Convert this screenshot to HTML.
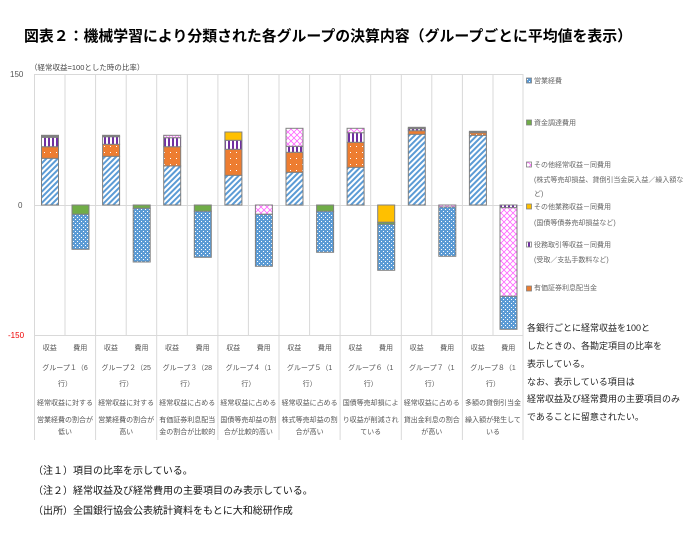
<!DOCTYPE html>
<html><head><meta charset="utf-8"><style>
body{margin:0;background:#fff;}
svg{display:block;font-family:"Liberation Sans","Noto Sans CJK JP",sans-serif;}
</style></head><body>
<svg width="698" height="538" viewBox="0 0 698 538" xmlns="http://www.w3.org/2000/svg">
<defs>
<pattern id="hb" width="4" height="4" patternUnits="userSpaceOnUse" patternTransform="rotate(45)"><rect width="4" height="4" fill="#fff"/><rect width="2" height="4" fill="#5B9BD5"/></pattern>
<pattern id="db" width="4" height="4" patternUnits="userSpaceOnUse"><rect width="4" height="4" fill="#5B9BD5"/><rect x="1" y="1" width="1" height="1" fill="#fff"/><rect x="3" y="3" width="1" height="1" fill="#fff"/></pattern>
<pattern id="do" width="6" height="6" patternUnits="userSpaceOnUse"><rect width="6" height="6" fill="#ED7D31"/><rect x="2" y="2" width="1" height="1" fill="#fff"/></pattern>
<pattern id="vp" width="4" height="4" patternUnits="userSpaceOnUse"><rect width="4" height="4" fill="#fff"/><rect width="2" height="4" fill="#7030A0"/></pattern>
<pattern id="xp" width="6" height="6" patternUnits="userSpaceOnUse"><rect width="6" height="6" fill="#fff"/><path d="M0 0L6 6M6 0L0 6" stroke="#FF66FF" stroke-width="0.8"/></pattern>
</defs>
<text x="24" y="41" font-size="15" font-weight="bold" fill="#000" textLength="608" lengthAdjust="spacingAndGlyphs">図表２：機械学習により分類された各グループの決算内容（グループごとに平均値を表示）</text>
<text x="30" y="70" font-size="7.5" fill="#444">（経常収益=100とした時の比率）</text>
<text x="10" y="77" font-size="8" fill="#555">150</text>
<text x="18" y="208" font-size="8" fill="#555">0</text>
<text x="8" y="338" font-size="8" fill="#e00">-150</text>
<g stroke="#d9d9d9" stroke-width="1">
<line x1="34" y1="74.5" x2="523" y2="74.5"/>
<line x1="34" y1="335.5" x2="523" y2="335.5"/>
<line x1="34.5" y1="74" x2="34.5" y2="440"/>
<line x1="65" y1="74" x2="65" y2="335"/><line x1="95.6" y1="74" x2="95.6" y2="440"/>
<line x1="126.2" y1="74" x2="126.2" y2="335"/><line x1="156.7" y1="74" x2="156.7" y2="440"/>
<line x1="187.3" y1="74" x2="187.3" y2="335"/><line x1="217.9" y1="74" x2="217.9" y2="440"/>
<line x1="248.4" y1="74" x2="248.4" y2="335"/><line x1="279" y1="74" x2="279" y2="440"/>
<line x1="309.6" y1="74" x2="309.6" y2="335"/><line x1="340.1" y1="74" x2="340.1" y2="440"/>
<line x1="370.7" y1="74" x2="370.7" y2="335"/><line x1="401.3" y1="74" x2="401.3" y2="440"/>
<line x1="431.8" y1="74" x2="431.8" y2="335"/><line x1="462.4" y1="74" x2="462.4" y2="440"/>
<line x1="493" y1="74" x2="493" y2="335"/><line x1="523" y1="74" x2="523" y2="440"/>
</g>
<line x1="34" y1="205.5" x2="523" y2="205.5" stroke="#d9d9d9"/>
<g stroke="#808080" stroke-width="1">
<!-- G1 -->
<rect x="41.5" y="158.3" width="17" height="46.7" fill="url(#hb)"/>
<rect x="41.5" y="146.7" width="17" height="11.6" fill="url(#do)"/>
<rect x="41.5" y="137.3" width="17" height="9.4" fill="url(#vp)"/>
<rect x="41.5" y="135.3" width="17" height="2" fill="#808080"/>
<rect x="72" y="205" width="17" height="9.3" fill="#70AD47"/>
<rect x="72" y="214.3" width="17" height="35" fill="url(#db)"/>
<!-- G2 -->
<rect x="102.6" y="156.3" width="17" height="48.7" fill="url(#hb)"/>
<rect x="102.6" y="144.3" width="17" height="12" fill="url(#do)"/>
<rect x="102.6" y="136.7" width="17" height="7.6" fill="url(#vp)"/>
<rect x="102.6" y="135.3" width="17" height="1.4" fill="#808080"/>
<rect x="133.2" y="205" width="17" height="3.3" fill="#70AD47"/>
<rect x="133.2" y="208.3" width="17" height="53.7" fill="url(#db)"/>
<!-- G3 -->
<rect x="163.7" y="166" width="17" height="39" fill="url(#hb)"/>
<rect x="163.7" y="146.7" width="17" height="19.3" fill="url(#do)"/>
<rect x="163.7" y="137.7" width="17" height="9" fill="url(#vp)"/>
<rect x="163.7" y="135.3" width="17" height="2.4" fill="url(#xp)"/>
<rect x="194.3" y="205" width="17" height="6.3" fill="#70AD47"/>
<rect x="194.3" y="211.3" width="17" height="46" fill="url(#db)"/>
<!-- G4 -->
<rect x="224.9" y="175.3" width="17" height="29.7" fill="url(#hb)"/>
<rect x="224.9" y="149.3" width="17" height="26" fill="url(#do)"/>
<rect x="224.9" y="140.3" width="17" height="9" fill="url(#vp)"/>
<rect x="224.9" y="132" width="17" height="8.3" fill="#FFC000"/>
<rect x="255.4" y="205" width="17" height="9.3" fill="url(#xp)"/>
<rect x="255.4" y="214.3" width="17" height="52" fill="url(#db)"/>
<!-- G5 -->
<rect x="286" y="172.3" width="17" height="32.7" fill="url(#hb)"/>
<rect x="286" y="152.3" width="17" height="20" fill="url(#do)"/>
<rect x="286" y="146.3" width="17" height="6" fill="url(#vp)"/>
<rect x="286" y="128.3" width="17" height="18" fill="url(#xp)"/>
<rect x="316.6" y="205" width="17" height="6.3" fill="#70AD47"/>
<rect x="316.6" y="211.3" width="17" height="41" fill="url(#db)"/>
<!-- G6 -->
<rect x="347.1" y="167.3" width="17" height="37.7" fill="url(#hb)"/>
<rect x="347.1" y="142.3" width="17" height="25" fill="url(#do)"/>
<rect x="347.1" y="132.7" width="17" height="9.6" fill="url(#vp)"/>
<rect x="347.1" y="128.3" width="17" height="4.4" fill="url(#xp)"/>
<rect x="377.7" y="205" width="17" height="17.3" fill="#FFC000"/>
<rect x="377.7" y="222.3" width="17" height="2" fill="#70AD47"/>
<rect x="377.7" y="224.3" width="17" height="46" fill="url(#db)"/>
<!-- G7 -->
<rect x="408.3" y="134.3" width="17" height="70.7" fill="url(#hb)"/>
<rect x="408.3" y="130.7" width="17" height="3.6" fill="url(#do)"/>
<rect x="408.3" y="128.7" width="17" height="2" fill="url(#vp)"/>
<rect x="408.3" y="127.3" width="17" height="1.4" fill="#808080"/>
<rect x="438.8" y="205" width="17" height="2" fill="url(#xp)"/>
<rect x="438.8" y="207" width="17" height="49.3" fill="url(#db)"/>
<!-- G8 -->
<rect x="469.4" y="135.3" width="17" height="69.7" fill="url(#hb)"/>
<rect x="469.4" y="132.7" width="17" height="2.6" fill="url(#do)"/>
<rect x="469.4" y="131.3" width="17" height="1.4" fill="#808080"/>
<rect x="500" y="205" width="17" height="2.7" fill="url(#vp)"/>
<rect x="500" y="207.7" width="17" height="88.6" fill="url(#xp)"/>
<rect x="500" y="296.3" width="17" height="33" fill="url(#db)"/>
</g>
<!-- category labels -->
<g font-size="7" fill="#555" text-anchor="middle">
<text x="49.8" y="350">収益</text><text x="80.3" y="350">費用</text>
<text x="110.9" y="350">収益</text><text x="141.5" y="350">費用</text>
<text x="172" y="350">収益</text><text x="202.6" y="350">費用</text>
<text x="233.2" y="350">収益</text><text x="263.7" y="350">費用</text>
<text x="294.3" y="350">収益</text><text x="324.9" y="350">費用</text>
<text x="355.4" y="350">収益</text><text x="386" y="350">費用</text>
<text x="416.6" y="350">収益</text><text x="447.1" y="350">費用</text>
<text x="477.7" y="350">収益</text><text x="508.3" y="350">費用</text>
</g>
<g font-size="7" fill="#555" text-anchor="middle">
<text x="65" y="370">グループ１（6</text><text x="65" y="386">行）</text>
<text x="126.2" y="370">グループ２（25</text><text x="126.2" y="386">行）</text>
<text x="187.3" y="370">グループ３（28</text><text x="187.3" y="386">行）</text>
<text x="248.4" y="370">グループ４（1</text><text x="248.4" y="386">行）</text>
<text x="309.6" y="370">グループ５（1</text><text x="309.6" y="386">行）</text>
<text x="370.7" y="370">グループ６（1</text><text x="370.7" y="386">行）</text>
<text x="431.8" y="370">グループ７（1</text><text x="431.8" y="386">行）</text>
<text x="493" y="370">グループ８（1</text><text x="493" y="386">行）</text>
</g>
<g font-size="7" fill="#555" text-anchor="middle">
<text x="65" y="405">経常収益に対する</text><text x="65" y="422">営業経費の割合が</text><text x="65" y="434">低い</text>
<text x="126.2" y="405">経常収益に対する</text><text x="126.2" y="422">営業経費の割合が</text><text x="126.2" y="434">高い</text>
<text x="187.3" y="405">経常収益に占める</text><text x="187.3" y="422">有価証券利息配当</text><text x="187.3" y="434">金の割合が比較的</text>
<text x="248.4" y="405">経常収益に占める</text><text x="248.4" y="422">国債等売却益の割</text><text x="248.4" y="434">合が比較的高い</text>
<text x="309.6" y="405">経常収益に占める</text><text x="309.6" y="422">株式等売却益の割</text><text x="309.6" y="434">合が高い</text>
<text x="370.7" y="405">国債等売却損によ</text><text x="370.7" y="422">り収益が削減され</text><text x="370.7" y="434">ている</text>
<text x="431.8" y="405">経常収益に占める</text><text x="431.8" y="422">貸出金利息の割合</text><text x="431.8" y="434">が高い</text>
<text x="493" y="405">多額の貸倒引当金</text><text x="493" y="422">繰入額が発生して</text><text x="493" y="434">いる</text>
</g>
<!-- legend -->
<g stroke="#808080" stroke-width="0.8">
<rect x="526.5" y="78" width="5" height="5" fill="url(#db)"/>
<rect x="526.5" y="120" width="5" height="5" fill="#70AD47"/>
<rect x="526.5" y="162" width="5" height="5" fill="url(#xp)"/>
<rect x="526.5" y="204" width="5" height="5" fill="#FFC000"/>
<rect x="526.5" y="242" width="5" height="5" fill="url(#vp)"/>
<rect x="526.5" y="286" width="5" height="5" fill="#ED7D31"/>
</g>
<g font-size="7" fill="#666">
<text x="534" y="83">営業経費</text>
<text x="534" y="125">資金調達費用</text>
<text x="534" y="167">その他経常収益－同費用</text>
<text x="534" y="182">(株式等売却損益、貸倒引当金戻入益／繰入額な</text>
<text x="534" y="196">ど)</text>
<text x="534" y="209">その他業務収益－同費用</text>
<text x="534" y="225">(国債等債券売却損益など)</text>
<text x="534" y="247">役務取引等収益－同費用</text>
<text x="534" y="262">(受取／支払手数料など)</text>
<text x="534" y="290">有価証券利息配当金</text>
</g>
<g font-size="9" fill="#222">
<text x="527" y="331">各銀行ごとに経常収益を100と</text>
<text x="527" y="349">したときの、各勘定項目の比率を</text>
<text x="527" y="367">表示している。</text>
<text x="527" y="385">なお、表示している項目は</text>
<text x="527" y="402">経常収益及び経常費用の主要項目のみ</text>
<text x="527" y="420">であることに留意されたい。</text>
</g>
<g font-size="10" fill="#111">
<text x="33" y="474">（注１）項目の比率を示している。</text>
<text x="33" y="494">（注２）経常収益及び経常費用の主要項目のみ表示している。</text>
<text x="33" y="514">（出所）全国銀行協会公表統計資料をもとに大和総研作成</text>
</g>
</svg>
</body></html>
